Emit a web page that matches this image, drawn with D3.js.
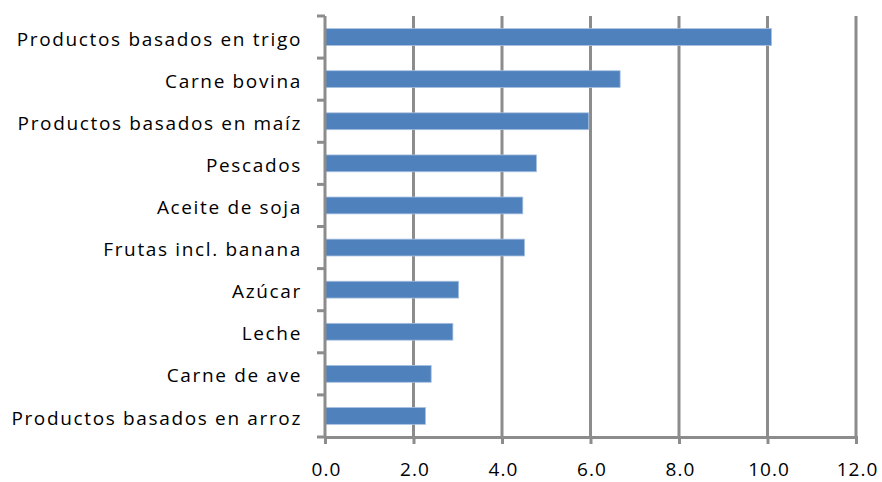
<!DOCTYPE html>
<html>
<head>
<meta charset="utf-8">
<script src="https://cdn.jsdelivr.net/npm/d3@7"></script>
<style>
    body { margin: 0; background: #fff; }
    #chart text { font-family: "Open Sans", sans-serif; fill: #000; }
</style>
</head>
<body>
<div id="chart"></div>
<script>
var categories = ["Productos basados en trigo", "Carne bovina", "Productos basados en maíz", "Pescados",
    "Aceite de soja", "Frutas incl. banana", "Azúcar", "Leche", "Carne de ave", "Productos basados en arroz"];
var values = [10.09, 6.67, 5.96, 4.78, 4.47, 4.51, 3.02, 2.89, 2.40, 2.27];
var tickValues = [0, 2, 4, 6, 8, 10, 12];

var W = 882, H = 482;
var margin = { top: 16, right: 26, bottom: 45, left: 325 };

var svg = d3.select("#chart").append("svg")
    .attr("width", W)
    .attr("height", H);

var x = d3.scaleLinear().domain([0, 12]).range([margin.left, W - margin.right]);
var y = d3.scaleBand().domain(categories).range([margin.top, H - margin.bottom]).paddingInner(0.6).paddingOuter(0.3);

var gridColor = "#8c8c8c";

//gridlines
svg.append("g").selectAll("line")
    .data(tickValues.slice(1))
    .enter().append("line")
    .attr("x1", function (d) { return x(d); })
    .attr("x2", function (d) { return x(d); })
    .attr("y1", margin.top)
    .attr("y2", H - margin.bottom)
    .attr("stroke", gridColor)
    .attr("stroke-width", 3);

//bars
svg.append("g").selectAll("rect")
    .data(values)
    .enter().append("rect")
    .attr("x", x(0))
    .attr("y", function (d, i) { return y(categories[i]); })
    .attr("width", function (d) { return x(d) - x(0); })
    .attr("height", y.bandwidth())
    .attr("fill", "#4f81bd")
    .attr("stroke", "#a9c1e0")
    .attr("stroke-width", 0.8);

//x axis
var xAxis = d3.axisBottom(x).tickValues(tickValues).tickSize(7).tickPadding(15)
    .tickFormat(d3.format(".1f"));
var gx = svg.append("g")
    .attr("transform", "translate(0," + (H - margin.bottom) + ")")
    .call(xAxis);
gx.select(".domain").attr("stroke", gridColor).attr("stroke-width", 3);
gx.selectAll(".tick line").attr("stroke", gridColor).attr("stroke-width", 3);
gx.selectAll(".tick text")
    .attr("font-size", 19)
    .attr("dy", "0.9em")
    .attr("dx", "0.05em")
    .style("letter-spacing", "1px");

//y axis with ticks between categories
var bounds = d3.range(categories.length + 1).map(function (i) { return margin.top + i * (H - margin.top - margin.bottom) / categories.length; });
svg.append("line")
    .attr("x1", x(0)).attr("x2", x(0))
    .attr("y1", margin.top).attr("y2", H - margin.bottom)
    .attr("stroke", gridColor).attr("stroke-width", 3);
svg.append("g").selectAll("line")
    .data(bounds)
    .enter().append("line")
    .attr("x1", x(0) - 8).attr("x2", x(0))
    .attr("y1", function (d) { return d; })
    .attr("y2", function (d) { return d; })
    .attr("stroke", gridColor).attr("stroke-width", 3);

svg.append("g").selectAll("text")
    .data(categories)
    .enter().append("text")
    .attr("x", 302)
    .attr("y", function (d) { return y(d) + y.bandwidth() / 2; })
    .attr("dy", "0.45em")
    .attr("text-anchor", "end")
    .attr("font-size", 19)
    .style("letter-spacing", "1.65px")
    .text(function (d) { return d; });
</script>
</body>
</html>
